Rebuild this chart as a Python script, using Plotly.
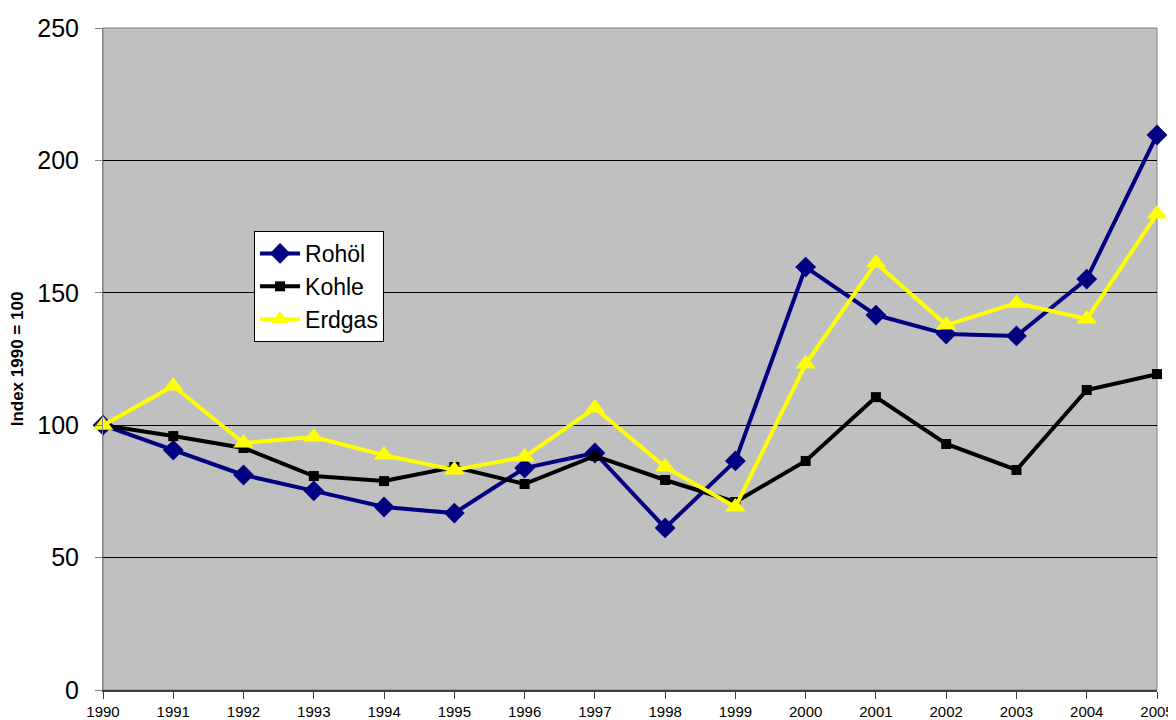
import plotly.graph_objects as go

years = list(range(1990, 2006))
rohoel = [100, 90.6, 81.2, 75.2, 69.1, 66.8, 83.8, 89.5, 61.2, 86.5, 159.7, 141.6, 134.4, 133.7, 155.2, 209.6]
kohle = [100, 95.9, 91.4, 80.8, 78.9, 84.2, 77.8, 88.4, 79.3, 71.0, 86.5, 110.6, 92.9, 83.1, 113.3, 119.3]
erdgas = [100, 114.8, 93.3, 95.5, 88.7, 83.1, 88.0, 106.5, 84.2, 69.1, 123.1, 161.3, 137.8, 146.1, 140.1, 179.8]
y_ticks = [0, 50, 100, 150, 200, 250]

fig = go.Figure()
fig.add_trace(go.Scatter(x=years, y=rohoel, name="Rohöl", mode="lines+markers",
                         line=dict(color="#000080", width=4),
                         marker=dict(symbol="diamond", size=16, color="#000080"),
                         cliponaxis=False))
fig.add_trace(go.Scatter(x=years, y=kohle, name="Kohle", mode="lines+markers",
                         line=dict(color="#000000", width=4),
                         marker=dict(symbol="square", size=10, color="#000000"),
                         cliponaxis=False))
fig.add_trace(go.Scatter(x=years, y=erdgas, name="Erdgas", mode="lines+markers",
                         line=dict(color="#FFFF00", width=4),
                         marker=dict(symbol="triangle-up", size=18, color="#FFFF00"),
                         cliponaxis=False))

# page body has an 8px default margin, so the figure is 8px smaller and margins 8px less
fig.update_layout(
    width=1168, height=712,
    margin=dict(l=95, r=19, t=20, b=30, autoexpand=False),
    paper_bgcolor="white",
    plot_bgcolor="#C0C0C0",
    font=dict(family="Liberation Sans, Arial, sans-serif", color="black"),
    showlegend=True,
    legend=dict(x=0.1433, y=0.6934, xanchor="left", yanchor="top",
                bgcolor="white", bordercolor="black", borderwidth=1,
                font=dict(size=23, family="Liberation Sans, Arial, sans-serif"),
                tracegroupgap=0, itemwidth=40),
    xaxis=dict(range=[1990, 2005], tickmode="array", tickvals=years,
               ticktext=[str(y) for y in years],
               showgrid=False, zeroline=False, automargin=False,
               showline=True, linecolor="#404040", linewidth=2,
               ticks="outside", ticklen=7, tickcolor="#404040",
               ticklabelstandoff=0,
               tickfont=dict(size=15)),
    yaxis=dict(range=[0, 250], tickmode="array", tickvals=y_ticks,
               showgrid=True, gridcolor="black", gridwidth=1,
               zeroline=False, automargin=False,
               showline=True, linecolor="#808080", linewidth=1,
               ticks="outside", ticklen=7, tickcolor="#808080",
               ticklabelstandoff=11,
               tickfont=dict(size=25),
               title=dict(text="<b>Index 1990 = 100</b>",
                          font=dict(size=17, family="Liberation Sans, Arial, sans-serif"),
                          standoff=12)),
)

# plot border (top/right) in gray
fig.add_shape(type="rect", xref="paper", yref="paper", x0=0, y0=0, x1=1, y1=1,
              line=dict(color="#808080", width=1), layer="between")

fig.write_html("out.html")
